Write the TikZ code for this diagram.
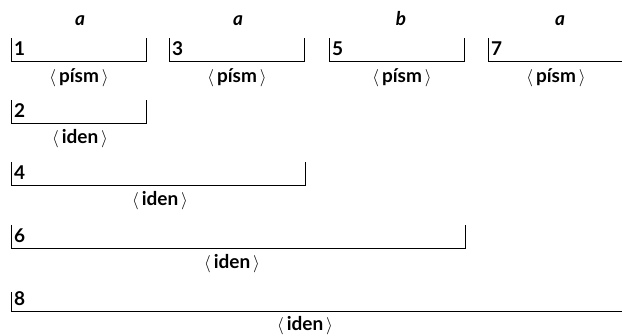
\documentclass[tikz,border=0pt]{standalone}
\usepackage{fontspec}
\setmainfont{Lato}
\begin{document}
\begin{tikzpicture}[x=1pt,y=-1pt,
  brk/.style={line width=0.9pt,line join=miter},
  num/.style={anchor=base west,inner sep=0pt,font=\fontsize{19}{19}\selectfont\bfseries},
  sym/.style={anchor=base,inner sep=0pt,font=\fontsize{19}{19}\selectfont\bfseries\itshape},
  cat/.style={anchor=base,inner sep=0pt,font=\fontsize{19}{19}\selectfont\bfseries}]
\useasboundingbox (0,0) rectangle (622,336);
% top row: the four letters
\draw[brk] (11,38) -- (11,61) -- (146,61) -- (146,38);
\draw[brk] (169,38) -- (169,61) -- (304,61) -- (304,38);
\draw[brk] (329,38) -- (329,61) -- (464,61) -- (464,38);
\draw[brk] (488,38) -- (488,61) -- (622,61);
\node[sym] (s1) at (80,26) {a};
\node[sym] (s3) at (238,26) {a};
\node[sym] (s5) at (401,26) {b};
\node[sym] (s7) at (560,26) {a};
\node[num] (n1) at (14,56) {1};
\node[num] (n3) at (172,56) {3};
\node[num] (n5) at (332,56) {5};
\node[num] (n7) at (491,56) {7};
\node[cat] (c1) at (79,83) {$\langle\,$písm$\,\rangle$};
\node[cat] (c3) at (237,83) {$\langle\,$písm$\,\rangle$};
\node[cat] (c5) at (402,83) {$\langle\,$písm$\,\rangle$};
\node[cat] (c7) at (556,83) {$\langle\,$písm$\,\rangle$};
% growing identifiers
\draw[brk] (11,100) -- (11,123) -- (146,123) -- (146,100);
\node[num] (n2) at (14,118) {2};
\node[cat] (c2) at (80,144) {$\langle\,$iden$\,\rangle$};
\draw[brk] (11,162) -- (11,185) -- (305,185) -- (305,162);
\node[num] (n4) at (14,180) {4};
\node[cat] (c4) at (160,206) {$\langle\,$iden$\,\rangle$};
\draw[brk] (11,225) -- (11,248) -- (465,248) -- (465,225);
\node[num] (n6) at (14,243) {6};
\node[cat] (c6) at (232,269) {$\langle\,$iden$\,\rangle$};
\draw[brk] (11,292) -- (11,311) -- (622,311);
\node[num] (n8) at (14,306) {8};
\node[cat] (c8) at (305,331) {$\langle\,$iden$\,\rangle$};
\end{tikzpicture}
\end{document}
